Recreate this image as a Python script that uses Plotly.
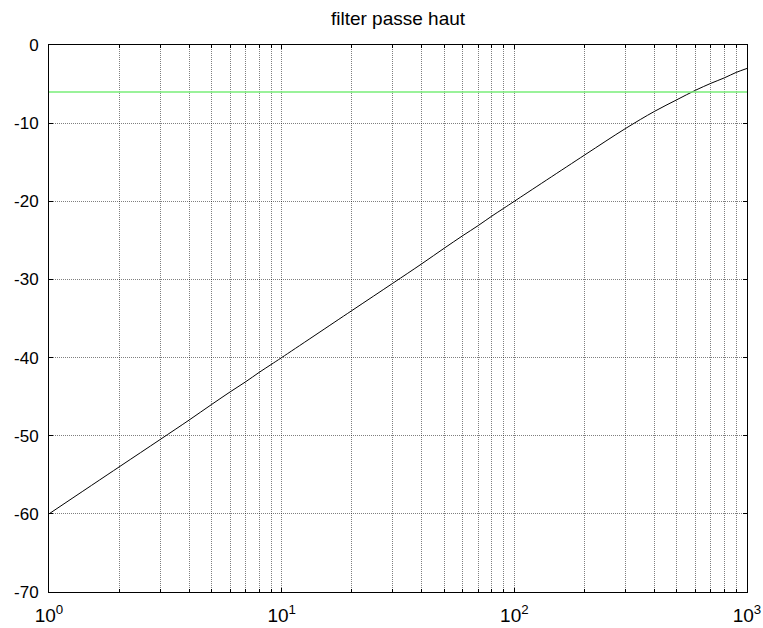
import plotly.graph_objects as go

freq = [1, 2, 3, 4, 5, 6, 7, 8, 9, 10,
        20, 30, 40, 50, 60, 70, 80, 90, 100,
        200, 300, 400, 500, 600, 700, 800, 900, 1000]
gain_db = [-60.0, -54.0, -50.5, -48.0, -46.0, -44.4, -43.1, -41.9, -40.9, -40.0,
           -34.0, -30.5, -28.0, -26.0, -24.4, -23.1, -21.9, -20.9, -20.0,
           -14.1, -10.7, -8.5, -7.0, -5.8, -4.9, -4.2, -3.5, -3.0]
ref_x = [1, 1000]
ref_y = [-6, -6]

x_major = [1, 10, 100, 1000]
x_major_text = ["10<sup>0</sup>", "10<sup>1</sup>", "10<sup>2</sup>", "10<sup>3</sup>"]
x_minor = [2, 3, 4, 5, 6, 7, 8, 9, 20, 30, 40, 50, 60, 70, 80, 90,
           200, 300, 400, 500, 600, 700, 800, 900]
y_ticks = [0, -10, -20, -30, -40, -50, -60, -70]
y_text = ["0", "-10", "-20", "-30", "-40", "-50", "-60", "-70"]

fig = go.Figure()
fig.add_trace(go.Scatter(x=freq, y=gain_db, mode="lines", line_shape="spline",
                         line=dict(color="black", width=1), showlegend=False))
fig.add_trace(go.Scatter(x=ref_x, y=ref_y, mode="lines",
                         line=dict(color="#78ee78", width=1.5), showlegend=False))

grid_col = "rgba(0,0,0,0.5)"
fig.update_layout(
    width=763, height=628,
    margin=dict(l=49, r=16, t=45, b=36),
    paper_bgcolor="white", plot_bgcolor="white",
    font=dict(family="Liberation Sans, Arial, sans-serif", size=17, color="black"),
    title=dict(text="filter passe haut", x=(49 + 747) / 2 / 763, xanchor="center",
               y=1 - 18 / 628, yanchor="middle", yref="container",
               font=dict(size=19, color="black")),
)
fig.update_xaxes(
    type="log", range=[0, 3], automargin=False,
    tickmode="array", tickvals=x_major, ticktext=x_major_text,
    ticks="inside", ticklen=4, tickcolor="black",
    showline=True, linecolor="black", linewidth=1, mirror="ticks",
    showgrid=True, gridcolor=grid_col, griddash="1px,1px", gridwidth=1,
    minor=dict(tickmode="array", tickvals=x_minor, ticks="inside", ticklen=3,
               tickcolor="black", showgrid=True, gridcolor=grid_col,
               griddash="1px,1px", gridwidth=1),
    zeroline=False, tickfont=dict(size=19), ticklabelstandoff=6,
)
fig.update_yaxes(
    range=[-70, 0], tickmode="array", tickvals=y_ticks, ticktext=y_text,
    automargin=False,
    ticks="inside", ticklen=4, tickcolor="black",
    showline=True, linecolor="black", linewidth=1, mirror="ticks",
    showgrid=True, gridcolor=grid_col, griddash="1px,1px", gridwidth=1,
    zeroline=False, tickfont=dict(size=17), ticklabelstandoff=6,
)
fig.write_html("out.html")
